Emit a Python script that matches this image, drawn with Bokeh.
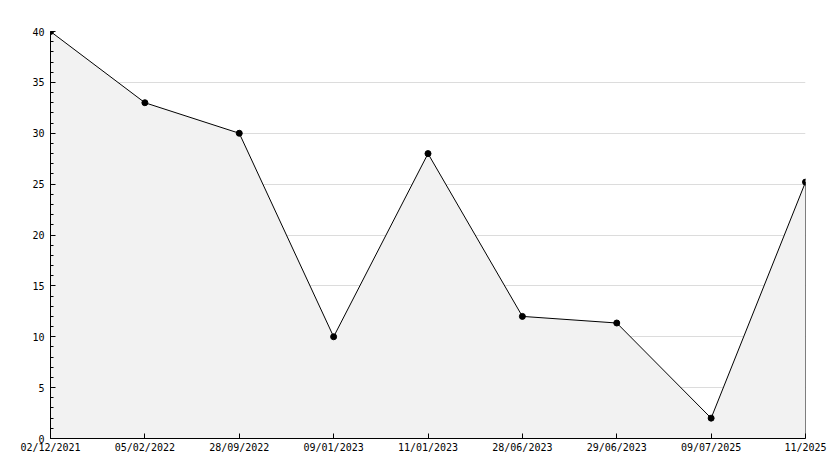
from bokeh.plotting import figure
from bokeh.models import FixedTicker, Range1d
from bokeh.embed import file_html
from bokeh.resources import INLINE

dates = ["02/12/2021", "05/02/2022", "28/09/2022", "09/01/2023", "11/01/2023",
         "28/06/2023", "29/06/2023", "09/07/2025", "11/2025"]
values = [40, 33, 30, 10, 28, 12, 11.35, 2, 25.2]
y_ticks = [0, 5, 10, 15, 20, 25, 30, 35, 40]

xs = list(range(len(dates)))

p = figure(width=834, height=468, output_backend="svg", toolbar_location=None,
           x_range=Range1d(0, len(dates) - 1), y_range=Range1d(0, 40),
           min_border_left=50, min_border_right=29, min_border_top=31, min_border_bottom=30)
p.outline_line_color = None
p.background_fill_color = "white"
p.border_fill_color = "white"

p.patch(xs + [xs[-1], xs[0]], values + [0, 0], fill_color="#f2f2f2",
        line_color="black", line_width=1)
p.scatter(xs, values, size=6, color="black", marker="circle")

font = "DejaVu Sans Mono"
p.yaxis.ticker = FixedTicker(ticks=y_ticks, minor_ticks=list(range(0, 41)))
p.xaxis.ticker = FixedTicker(ticks=xs)
p.xaxis.major_label_overrides = {i: d for i, d in enumerate(dates)}

for ax in (p.xaxis[0], p.yaxis[0]):
    ax.axis_line_color = "black"
    ax.major_tick_line_color = "black"
    ax.minor_tick_line_color = "black"
    ax.major_tick_in = 5
    ax.major_tick_out = 0
    ax.minor_tick_in = 3
    ax.minor_tick_out = 0
    ax.major_label_text_font = font
    ax.major_label_text_font_size = "10px"
    ax.major_label_text_color = "black"
p.xaxis.minor_tick_line_color = None
p.xaxis.major_label_standoff = 3
p.yaxis.major_label_standoff = 6

p.xgrid.grid_line_color = None
p.ygrid.grid_line_color = "#dcdcdc"
p.ygrid.ticker = FixedTicker(ticks=y_ticks)

open("out.html", "w").write(file_html(p, INLINE))
